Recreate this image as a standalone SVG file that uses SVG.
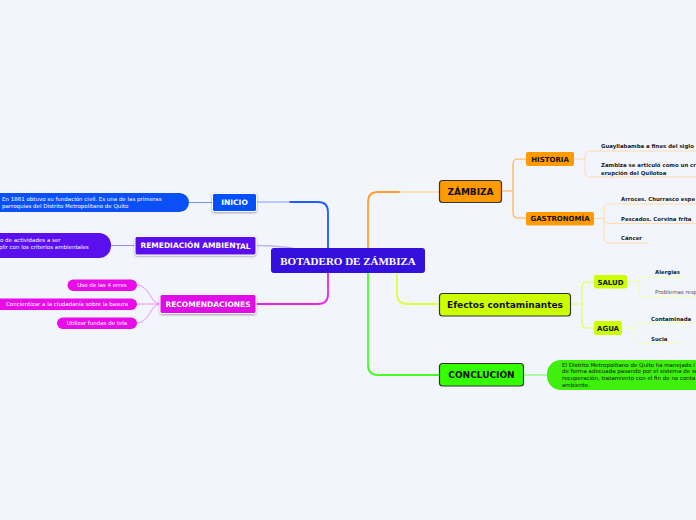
<svg xmlns="http://www.w3.org/2000/svg" width="696" height="520" viewBox="0 0 696 520">
<defs>
<filter id="sh" x="-10%" y="-20%" width="120%" height="160%">
<feDropShadow dx="0" dy="1" stdDeviation="0.8" flood-color="#000" flood-opacity="0.35"/>
</filter>
<style>
.c{fill:none;stroke-linecap:round;stroke-linejoin:round}
.t{font-family:"DejaVu Sans",Verdana,sans-serif;font-weight:bold}
.w{fill:#fff}
.k{fill:#111}
.lf{font-family:"DejaVu Sans",Verdana,sans-serif;font-weight:bold;font-size:5.4px;fill:#222}
.pt{font-family:"DejaVu Sans",Verdana,sans-serif;font-size:5.5px}
.mid{text-anchor:middle}
.bd{stroke:#333;stroke-width:1.2}
</style>
</defs>
<rect width="696" height="520" fill="#f3f5fd"/>

<g id="connectors">
<path class="c" d="M368 248V202Q368 192 378 192H400" stroke="#ffa02e" stroke-width="1.8"/>
<path class="c" d="M400 192H439" stroke="#ffd7a6" stroke-width="1.5"/>
<path class="c" d="M397 273V294Q397 304 407 304H439" stroke="#deff3a" stroke-width="1.8"/>
<path class="c" d="M368 273V365Q368 375 378 375H439" stroke="#45ff22" stroke-width="1.8"/>
<path class="c" d="M328 248V212Q328 202 318 202H290" stroke="#1d5cff" stroke-width="1.8"/>
<path class="c" d="M290 202H257" stroke="#7d9dff" stroke-width="1.2"/>
<path class="c" d="M257 245.5C275 245.5 280 246.5 292 248" stroke="#c2b0f7" stroke-width="1.4"/>
<path class="c" d="M328 273V294Q328 304 318 304H257" stroke="#ee22ee" stroke-width="1.8"/>

<path class="c" d="M189 202.5H212" stroke="#7096f8" stroke-width="1"/>
<path class="c" d="M111 245.5H135" stroke="#a086f5" stroke-width="1"/>
<path class="c" d="M160 304C150 304 150 285 137 285M160 304H137M160 304C150 304 150 323 137 323" stroke="#f08cf0" stroke-width="1"/>

<path class="c" d="M502 191H513M513 191V164Q513 159 518 159H526M513 191V213Q513 218 518 218H526" stroke="#ffb347" stroke-width="1.2"/>
<path class="c" d="M574 159H585M585 159V156Q585 151 590 151H700M585 159V172Q585 177 590 177H700" stroke="#ffdcaa" stroke-width="1"/>
<path class="c" d="M594 218.5H604M604 218.5V209Q604 204 609 204H700M604 218.5Q604 223.5 609 223.5H700M604 218.5V238Q604 243 609 243H647" stroke="#ffdcaa" stroke-width="1"/>

<path class="c" d="M571 304H582M582 304V287Q582 282 587 282H594M582 304V323Q582 328 587 328H594" stroke="#e2ff5a" stroke-width="1.2"/>
<path class="c" d="M627 281.5H639M639 281.5Q639 277 644 277H685M639 281.5V292Q639 297 644 297H700" stroke="#eeffaa" stroke-width="1"/>
<path class="c" d="M622 328H635M635 328Q635 323 640 323H700M635 328V338Q635 343 640 343H681" stroke="#eeffaa" stroke-width="1"/>

<path class="c" d="M524 375H547" stroke="#6cff48" stroke-width="1"/>
</g>

<g id="center">
<rect x="271" y="248" width="154" height="25" rx="3" fill="#3410dc"/>
<text x="348" y="264.5" class="mid w" font-family="'Liberation Serif','Times New Roman',serif" font-weight="bold" font-size="11">BOTADERO DE ZÁMBIZA</text>
</g>

<g id="inicio">
<rect x="212.5" y="193.5" width="44" height="18" rx="2" fill="#0450fa" stroke="#fff" stroke-width="1" filter="url(#sh)"/>
<text x="234.5" y="205" class="t w mid" font-size="7.5">INICIO</text>
</g>
<g id="inicio-leaf">
<rect x="-20" y="193" width="209" height="19" rx="9.5" fill="#0b4ff7"/>
<text x="2" y="200.8" class="pt w">En 1861 obtuvo su fundación civil. Es una de las primeras</text>
<text x="2" y="208" class="pt w">parroquias del Distrito Metropolitano de Quito</text>
</g>

<g id="remediacion">
<rect x="135" y="236.5" width="121" height="18.5" rx="2" fill="#5a10ee" stroke="#fff" stroke-width="1" filter="url(#sh)"/>
<text x="195.5" y="248" class="t w mid" font-size="7.5">REMEDIACIÓN AMBIEN<tspan dy="1.2">TAL</tspan></text>
</g>
<g id="remediacion-leaf">
<rect x="-20" y="233" width="131" height="25" rx="12" fill="#5a10ee"/>
<text x="0" y="241.8" class="pt w">o de actividades a ser</text>
<text x="-1" y="249.3" class="pt w">plir con los criterios ambientales</text>
</g>

<g id="recomendaciones">
<rect x="160" y="294.5" width="96" height="19" rx="2" fill="#e00ce6" stroke="#fff" stroke-width="1" filter="url(#sh)"/>
<text x="208" y="306.5" class="t w mid" font-size="7.5">RECOMENDACIONES</text>
</g>
<g id="rec-1">
<rect x="67.5" y="279.5" width="69.5" height="11.5" rx="5.75" fill="#e80ce8"/>
<text x="102" y="287.2" class="pt w mid">Uso de las 4 erres</text>
</g>
<g id="rec-2">
<rect x="-10" y="298.5" width="147" height="11.5" rx="5.75" fill="#e80ce8"/>
<text x="6" y="306.2" class="pt w">Concientizar a la ciudadanía sobre la basura</text>
</g>
<g id="rec-3">
<rect x="57" y="317.5" width="80" height="11.5" rx="5.75" fill="#e80ce8"/>
<text x="97" y="325.2" class="pt w mid">Utilizar fundas de tela</text>
</g>

<g id="zambiza">
<rect x="439.5" y="180.5" width="62" height="22" rx="3" fill="#ff9a00" class="bd"/>
<text x="470.5" y="194.8" class="t k mid" font-size="9">ZÁMBIZA</text>
</g>
<g id="historia">
<rect x="526" y="152" width="48" height="14" rx="2" fill="#ff9a00"/>
<text x="550" y="161.6" class="t k mid" font-size="7">HISTORIA</text>
</g>
<g id="historia-1"><text x="601" y="148" class="lf">Guayllabamba a fines del siglo</text></g>
<g id="historia-2">
<text x="601" y="167" class="lf">Zambiza se articuló como un cr</text>
<text x="601" y="174.5" class="lf">erupción del Quilotoa</text>
</g>
<g id="gastronomia">
<rect x="526" y="212" width="68" height="13.5" rx="2" fill="#ff9a00"/>
<text x="560" y="221.4" class="t k mid" font-size="7">GASTRONOMÍA</text>
</g>
<g id="gastro-1"><text x="621" y="201" class="lf">Arroces. Churrasco espe</text></g>
<g id="gastro-2"><text x="621" y="220.5" class="lf">Pescados. Corvina frita</text></g>
<g id="gastro-3"><text x="621" y="240" class="lf">Cáncer</text></g>

<g id="efectos">
<rect x="439.5" y="293.5" width="131" height="22.5" rx="3" fill="#ccff00" class="bd"/>
<text x="505" y="308" class="t k mid" font-size="9">Efectos contaminantes</text>
</g>
<g id="salud">
<rect x="594" y="275" width="33" height="13.5" rx="2" fill="#ccff00"/>
<text x="610.5" y="284.5" class="t k mid" font-size="7">SALUD</text>
</g>
<g id="salud-1"><text x="655" y="274" class="lf">Alergias</text></g>
<g id="salud-2"><text x="655" y="294" class="pt" fill="#555">Problemas resp</text></g>
<g id="agua">
<rect x="594" y="321" width="28" height="14" rx="2" fill="#ccff00"/>
<text x="608" y="330.8" class="t k mid" font-size="7">AGUA</text>
</g>
<g id="agua-1"><text x="651" y="320.5" class="lf">Contaminada</text></g>
<g id="agua-2"><text x="651" y="340.5" class="lf">Sucia</text></g>

<g id="conclucion">
<rect x="439.5" y="363.5" width="84" height="22.5" rx="3" fill="#33ff00" class="bd"/>
<text x="481.5" y="378" class="t k mid" font-size="9">CONCLUCIÓN</text>
</g>
<g id="conclucion-leaf">
<rect x="547" y="360" width="170" height="30" rx="14" fill="#3ef00c"/>
<text x="562" y="366.8" class="pt k">El Distrito Metropolitano de Quito ha manejado l</text>
<text x="562" y="373.4" class="pt k">de forma adecuada pasando por el sistema de se</text>
<text x="562" y="380" class="pt k">recuperación, tratamiento con el fin de no conta</text>
<text x="562" y="386.6" class="pt k">ambiente.</text>
</g>
</svg>
